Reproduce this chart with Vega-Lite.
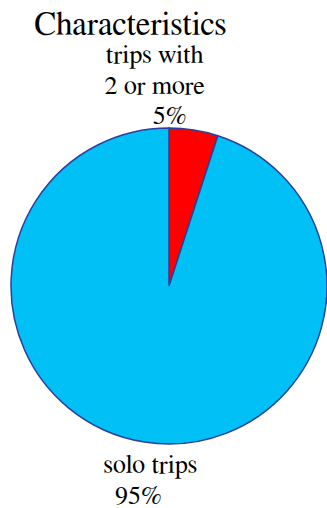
{
  "$schema": "https://vega.github.io/schema/vega-lite/v6.json",
  "autosize": {"type": "none"},
  "padding": {"left": 11, "top": 128, "right": 0, "bottom": 64},
  "width": 316,
  "height": 316,
  "background": "white",
  "config": {"view": {"stroke": null}},
  "title": {
    "text": "Characteristics",
    "font": "FreeSerif",
    "fontSize": 33,
    "fontWeight": "normal",
    "color": "black",
    "anchor": "start",
    "frame": "group",
    "dx": 23,
    "offset": 0
  },
  "data": {
    "values": [
      {"category": "trips with 2 or more", "label": "trips with\n2 or more", "share": 0.05},
      {"category": "solo trips", "label": "solo trips", "share": 0.95}
    ]
  },
  "encoding": {
    "theta": {"field": "share", "type": "quantitative", "stack": true},
    "order": {"field": "share", "type": "quantitative", "sort": "ascending"}
  },
  "layer": [
    {
      "mark": {"type": "arc", "stroke": "#2a3f9e", "strokeWidth": 1.5},
      "encoding": {
        "color": {
          "field": "category",
          "type": "nominal",
          "scale": {"domain": ["trips with 2 or more", "solo trips"], "range": ["#ff0000", "#00c0f5"]},
          "legend": null
        }
      }
    },
    {
      "mark": {"type": "text", "radius": 170, "dx": -41, "dy": -55, "font": "FreeSerif", "fontSize": 26, "lineHeight": 30.5, "lineBreak": "\n", "align": "center", "baseline": "alphabetic", "color": "black"},
      "encoding": {
        "text": {"condition": {"test": "datum.category == 'trips with 2 or more'", "field": "label"}, "value": ""}
      }
    },
    {
      "mark": {"type": "text", "radius": 170, "dx": -26, "dy": 6, "font": "FreeSerif", "fontSize": 26, "align": "center", "baseline": "alphabetic", "color": "black"},
      "encoding": {
        "text": {"condition": {"test": "datum.category == 'trips with 2 or more'", "field": "share", "format": ".0%"}, "value": ""}
      }
    },
    {
      "mark": {"type": "text", "radius": 170, "dx": 8, "dy": 19, "font": "FreeSerif", "fontSize": 26, "align": "center", "baseline": "alphabetic", "color": "black"},
      "encoding": {
        "text": {"condition": {"test": "datum.category == 'solo trips'", "field": "label"}, "value": ""}
      }
    },
    {
      "mark": {"type": "text", "radius": 170, "dx": -4, "dy": 50, "font": "FreeSerif", "fontSize": 26, "align": "center", "baseline": "alphabetic", "color": "black"},
      "encoding": {
        "text": {"condition": {"test": "datum.category == 'solo trips'", "field": "share", "format": ".0%"}, "value": ""}
      }
    }
  ]
}
